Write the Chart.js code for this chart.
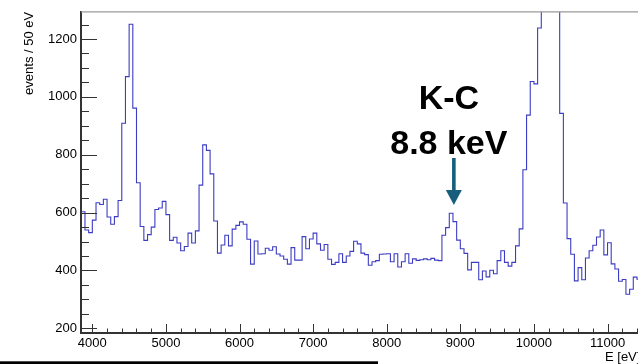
<!DOCTYPE html>
<html>
<head>
<meta charset="utf-8">
<script src="https://cdn.jsdelivr.net/npm/chart.js@4.4.0/dist/chart.umd.min.js"></script>
<style>
  html, body { margin: 0; padding: 0; background: #fff; }
  #wrap { width: 638px; height: 364px; }
</style>
</head>
<body>
<div id="wrap"><canvas id="spectrum" width="638" height="364"></canvas></div>
<script>
// histogram: 50 eV bins, first bin starts at 3850 eV
const binLow = 3850;
const binWidth = 50;
const counts = [
  603, 540, 531, 574, 634, 628, 646, 585, 560, 586,   // 3850 - 4300
  642, 909, 1070, 1251, 961, 703, 552, 504, 524, 550, // 4350 - 4800
  611, 616, 639, 593, 504, 515, 495, 468, 483, 529,   // 4850 - 5300
  495, 537, 695, 834, 815, 734, 571, 460, 488, 522,   // 5350 - 5800
  485, 543, 556, 568, 560, 508, 422, 502, 457, 458,   // 5850 - 6300
  477, 470, 482, 457, 450, 439, 422, 479, 436, 436,   // 6350 - 6800
  517, 475, 509, 529, 492, 470, 490, 439, 421, 428,   // 6850 - 7300
  458, 428, 450, 466, 501, 492, 460, 455, 418, 430,   // 7350 - 7800
  434, 456, 457, 458, 430, 458, 412, 430, 458, 425,   // 7850 - 8300
  440, 435, 437, 440, 437, 442, 436, 434, 522, 548,   // 8350 - 8800
  598, 569, 505, 475, 459, 402, 428, 428, 368, 398,   // 8850 - 9300
  378, 401, 389, 434, 468, 428, 415, 428, 485, 544,   // 9350 - 9800
  748, 937, 1053, 1045, 1238, 1500, 1700, 1750, 1600, 1400, // 9850 - 10300
  943, 633, 510, 456, 364, 410, 368, 443, 468, 487,   // 10350 - 10800
  516, 540, 454, 496, 423, 405, 363, 369, 318, 335,   // 10850 - 11300
  377, 370                                            // 11350 - 11400
];

const xRange = [3846, 11414];
const yRange = [184, 1294];
const xTicks = [4000, 5000, 6000, 7000, 8000, 9000, 10000, 11000];
const yTicks = [200, 400, 600, 800, 1000, 1200];
const xMinorStep = 200;
const yMinorStep = 50;

const yTitle = 'events / 50 eV';
const xTitle = 'E [eV]';
const peakText = ['K-C', '8.8 keV'];
const peakArrowE = 8912;

function histPoints() {
  const pts = counts.map((c, i) => ({ x: binLow + i * binWidth, y: c }));
  pts.push({ x: binLow + counts.length * binWidth, y: counts[counts.length - 1] });
  return pts;
}

// ROOT style decorations: inward ticks, frame, titles, annotation
const decorations = {
  id: 'decorations',
  afterDraw(chart) {
    const { ctx, chartArea: a, scales: { x, y } } = chart;
    ctx.save();

    // top frame
    ctx.strokeStyle = '#9a9a9a';
    ctx.lineWidth = 1.3;
    ctx.beginPath();
    ctx.moveTo(a.left, a.top);
    ctx.lineTo(a.right, a.top);
    ctx.stroke();

    // ticks
    ctx.strokeStyle = '#333';
    ctx.lineWidth = 1;
    ctx.beginPath();
    for (let v = Math.ceil(y.min / yMinorStep) * yMinorStep; v <= y.max; v += yMinorStep) {
      const py = Math.round(y.getPixelForValue(v)) + 0.5;
      const len = v % 200 === 0 ? 16 : 8;
      ctx.moveTo(a.left, py);
      ctx.lineTo(a.left + len, py);
    }
    for (let v = Math.ceil(x.min / xMinorStep) * xMinorStep; v <= x.max; v += xMinorStep) {
      const px = Math.round(x.getPixelForValue(v)) + 0.5;
      const len = v % 1000 === 0 ? 9 : 4.5;
      ctx.moveTo(px, a.bottom);
      ctx.lineTo(px, a.bottom - len);
    }
    ctx.stroke();

    // axis titles
    ctx.fillStyle = '#000';
    ctx.font = "13px 'Liberation Sans', Helvetica, Arial, sans-serif";
    ctx.save();
    ctx.translate(33, a.top);
    ctx.rotate(-Math.PI / 2);
    ctx.textAlign = 'right';
    ctx.textBaseline = 'alphabetic';
    ctx.fillText(yTitle, 0, 0);
    ctx.restore();
    ctx.textAlign = 'left';
    ctx.fillText(xTitle, 605, 361);

    // annotation
    const ax = x.getPixelForValue(peakArrowE);
    ctx.font = "bold 34px 'Liberation Sans', Helvetica, Arial, sans-serif";
    ctx.textAlign = 'center';
    ctx.fillText(peakText[0], ax - 5, 109);
    ctx.fillText(peakText[1], ax - 5, 154);
    ctx.fillStyle = '#165e7c';
    ctx.fillRect(ax - 1.8, 158, 3.6, 33);
    ctx.beginPath();
    ctx.moveTo(ax - 8, 190);
    ctx.lineTo(ax + 8, 190);
    ctx.lineTo(ax, 205);
    ctx.closePath();
    ctx.fill();

    // stray rule at the bottom of the crop
    ctx.fillStyle = '#000';
    ctx.fillRect(0, 361.3, 378, 2.7);

    ctx.restore();
  }
};

const tickFont = { family: "'Liberation Sans', Helvetica, Arial, sans-serif", size: 13 };

const ctx = document.getElementById('spectrum').getContext('2d');
new Chart(ctx, {
  type: 'line',
  data: {
    datasets: [{
      data: histPoints(),
      stepped: 'before',
      borderColor: '#3c3cc4',
      borderWidth: 1.1,
      pointRadius: 0,
      fill: false,
      tension: 0
    }]
  },
  options: {
    responsive: false,
    devicePixelRatio: 1,
    animation: false,
    layout: { padding: { top: 10, left: 0, right: 0, bottom: 0 } },
    plugins: { legend: { display: false }, tooltip: { enabled: false } },
    scales: {
      x: {
        type: 'linear',
        min: xRange[0],
        max: xRange[1],
        afterBuildTicks: s => { s.ticks = xTicks.map(v => ({ value: v })); },
        afterFit: s => { s.height = 31; },
        grid: { display: false, drawTicks: false },
        border: { display: true, color: '#333', width: 2 },
        ticks: {
          autoSkip: false,
          maxRotation: 0,
          padding: 3,
          color: '#000',
          font: tickFont,
          callback: v => String(v)
        }
      },
      y: {
        min: yRange[0],
        max: yRange[1],
        afterBuildTicks: s => { s.ticks = yTicks.map(v => ({ value: v })); },
        afterFit: s => { s.width = 81; },
        grid: { display: false, drawTicks: false },
        border: { display: true, color: '#333', width: 2 },
        ticks: {
          padding: 4,
          color: '#000',
          font: tickFont,
          callback: v => String(v)
        }
      }
    }
  },
  plugins: [decorations]
});
</script>
</body>
</html>
